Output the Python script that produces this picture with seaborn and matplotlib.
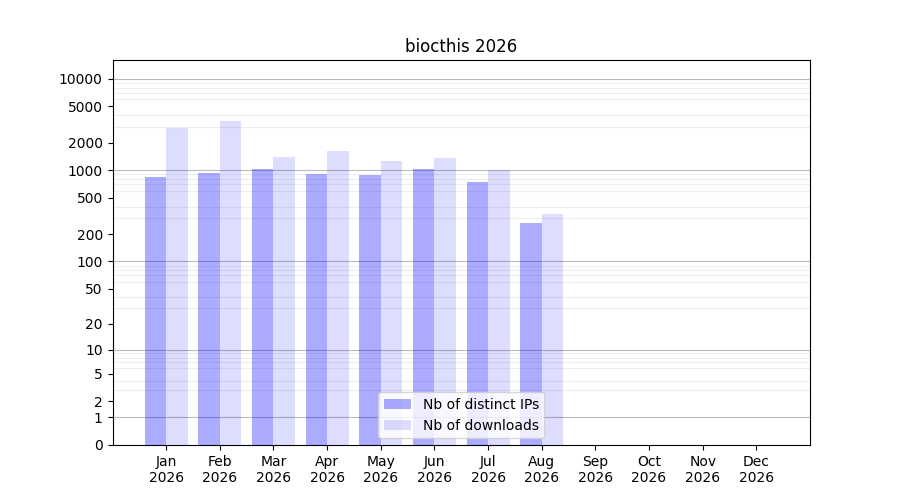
import numpy as np
import pandas as pd
import seaborn as sns
import matplotlib.pyplot as plt
from matplotlib.patches import Patch

# Data
months = ['Jan', 'Feb', 'Mar', 'Apr', 'May', 'Jun',
          'Jul', 'Aug', 'Sep', 'Oct', 'Nov', 'Dec']
year = 2026
ips = [849, 939, 1038, 915, 893, 1038, 748, 266]
downloads = [2913, 3474, 1405, 1633, 1270, 1370, 1012, 334]
ytick_values = [0, 1, 2, 5, 10, 20, 50, 100, 200, 500, 1000, 2000, 5000, 10000]

labels = [f'{m}\n{year}' for m in months]
df = pd.DataFrame({
    'month': labels[:len(ips)] * 2,
    'series': ['Nb of distinct IPs'] * len(ips) + ['Nb of downloads'] * len(downloads),
    'value': ips + downloads,
})

fig, ax = plt.subplots(figsize=(9, 5), dpi=100)

# log(x+1) scale so that zero can be shown
fwd = lambda x: np.log10(np.clip(x, 0, None) + 1)
inv = lambda y: 10 ** y - 1
ax.set_yscale('function', functions=(fwd, inv))

sns.barplot(data=df, x='month', y='value', hue='series', order=labels,
            palette=['blue', 'blue'], width=0.8, ax=ax, legend=False,
            saturation=1)

alphas = [0.33, 0.135]
for cont, a in zip(ax.containers, alphas):
    for p in cont.patches:
        p.set_facecolor((0, 0, 1, a))
        p.set_edgecolor('none')

ax.set_xlim(-1, 12)
ax.set_ylim(0, 16000)
ax.set_yticks(ytick_values)
ax.set_yticklabels([str(v) for v in ytick_values])
minor = [k * 10 ** n for n in range(0, 5) for k in range(2, 10) if k * 10 ** n < 16000]
ax.set_yticks(minor, minor=True)
ax.tick_params(axis='y', which='minor', length=0)
ax.grid(False)
for v in [1, 10, 100, 1000, 10000]:
    ax.axhline(v, color='#bbbbbb', linewidth=0.8, zorder=0.5)
ax.yaxis.grid(True, which='minor', color='#eeeeee', linewidth=0.8)
ax.set_axisbelow(True)

ax.set_xlabel('')
ax.set_ylabel('')
ax.set_title(f'biocthis {year}')

handles = [Patch(facecolor=(0, 0, 1, a), edgecolor='none') for a in alphas]
ax.legend(handles, ['Nb of distinct IPs', 'Nb of downloads'], loc='lower center')

fig.subplots_adjust(left=0.125, right=0.9, bottom=0.11, top=0.88)
fig.savefig('out.png', dpi=100)
